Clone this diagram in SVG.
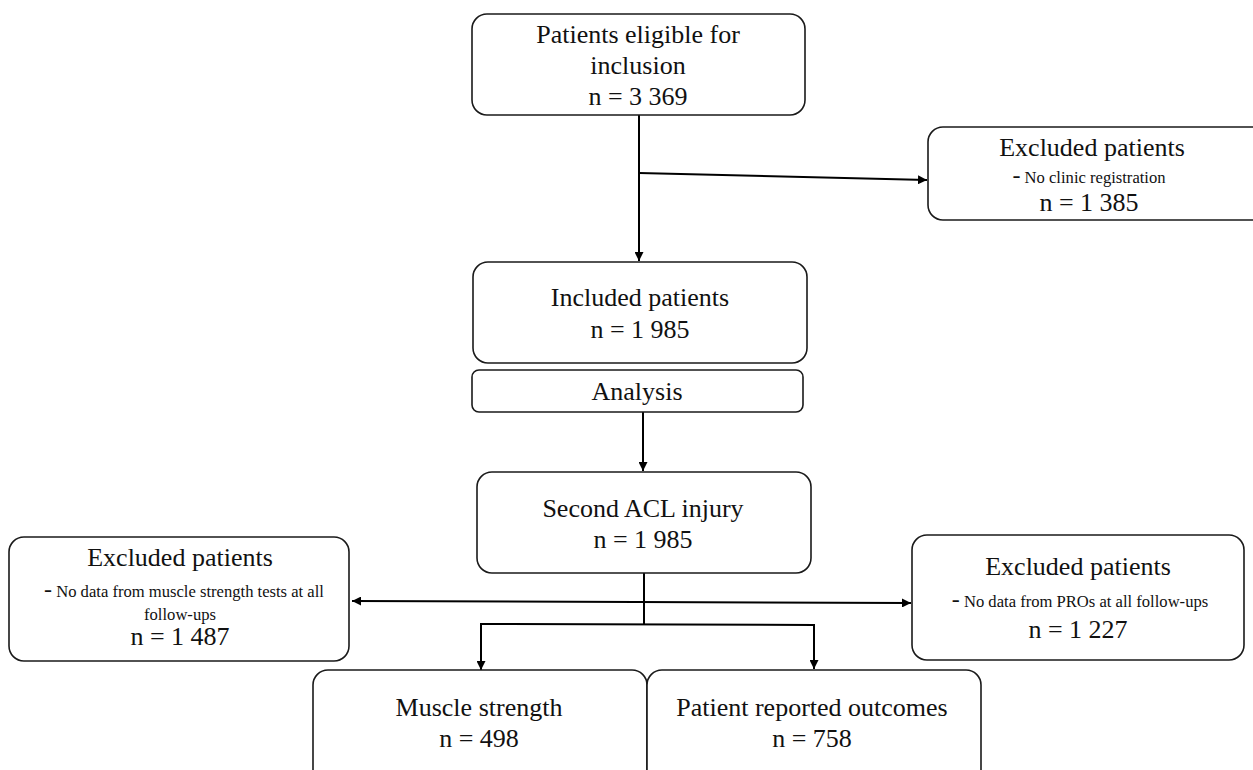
<svg xmlns="http://www.w3.org/2000/svg" width="1253" height="770" viewBox="0 0 1253 770">
<style>
.box{fill:#fff;stroke:#1a1a1a;stroke-width:1.6}
.t{font-family:"Liberation Serif","Times New Roman",serif;font-size:26px;fill:#111;text-anchor:middle}
.s{font-size:16.6px}
.d{font-size:24px}
.ln{fill:none;stroke:#000;stroke-width:2}
</style>
<defs>
<marker id="ah" viewBox="0 0 10 10" refX="10" refY="5" markerWidth="9" markerHeight="9" markerUnits="userSpaceOnUse" orient="auto-start-reverse">
<path d="M0,0 L10,5 L0,10 z" fill="#000"/>
</marker>
</defs>
<rect width="1253" height="770" fill="#fff"/>
<g id="connectors">
<line class="ln" x1="639" y1="115" x2="639" y2="261" marker-end="url(#ah)"/>
<line class="ln" x1="639" y1="173" x2="927" y2="180" marker-end="url(#ah)"/>
<line class="ln" x1="643" y1="412" x2="643" y2="471" marker-end="url(#ah)"/>
<line class="ln" x1="644" y1="573" x2="644" y2="624"/>
<line class="ln" x1="352" y1="601" x2="911" y2="603" marker-start="url(#ah)" marker-end="url(#ah)"/>
<polyline class="ln" points="481,670 481,624 814,625 814,669" marker-start="url(#ah)" marker-end="url(#ah)"/>
</g>
<g id="n-eligible">
<rect class="box" x="472" y="14" width="333" height="101" rx="15"/>
<text class="t" x="638" y="43">Patients eligible for</text>
<text class="t" x="638" y="74">inclusion</text>
<text class="t" x="638" y="105">n = 3 369</text>
</g>
<g id="n-excl1">
<rect class="box" x="928" y="127" width="340" height="93" rx="15"/>
<text class="t" x="1092" y="156">Excluded patients</text>
<text class="t" x="1089" y="183"><tspan class="d">-</tspan><tspan class="s"> No clinic registration</tspan></text>
<text class="t" x="1089" y="211">n = 1 385</text>
</g>
<g id="n-included">
<rect class="box" x="473" y="262" width="334" height="101" rx="15"/>
<text class="t" x="640" y="306">Included patients</text>
<text class="t" x="640" y="338">n = 1 985</text>
</g>
<g id="n-analysis">
<rect class="box" x="472" y="370" width="331" height="42" rx="7"/>
<text class="t" x="637" y="400">Analysis</text>
</g>
<g id="n-second">
<rect class="box" x="477" y="472" width="334" height="101" rx="15"/>
<text class="t" x="643" y="517">Second ACL injury</text>
<text class="t" x="643" y="548">n = 1 985</text>
</g>
<g id="n-excl-ms">
<rect class="box" x="9" y="537" width="340" height="124" rx="15"/>
<text class="t" x="180" y="566">Excluded patients</text>
<text class="t" x="184" y="597"><tspan class="d">-</tspan><tspan class="s"> No data from muscle strength tests at all</tspan></text>
<text class="t s" x="180" y="620">follow-ups</text>
<text class="t" x="180" y="645">n = 1 487</text>
</g>
<g id="n-excl-pro">
<rect class="box" x="912" y="535" width="332" height="125" rx="15"/>
<text class="t" x="1078" y="575">Excluded patients</text>
<text class="t" x="1080" y="607"><tspan class="d">-</tspan><tspan class="s"> No data from PROs at all follow-ups</tspan></text>
<text class="t" x="1078" y="638">n = 1 227</text>
</g>
<g id="n-muscle">
<rect class="box" x="313" y="670" width="334" height="120" rx="15"/>
<text class="t" x="479" y="716">Muscle strength</text>
<text class="t" x="479" y="747">n = 498</text>
</g>
<g id="n-pro">
<rect class="box" x="647" y="670" width="334" height="120" rx="15"/>
<text class="t" x="812" y="716">Patient reported outcomes</text>
<text class="t" x="812" y="747">n = 758</text>
</g>
</svg>
